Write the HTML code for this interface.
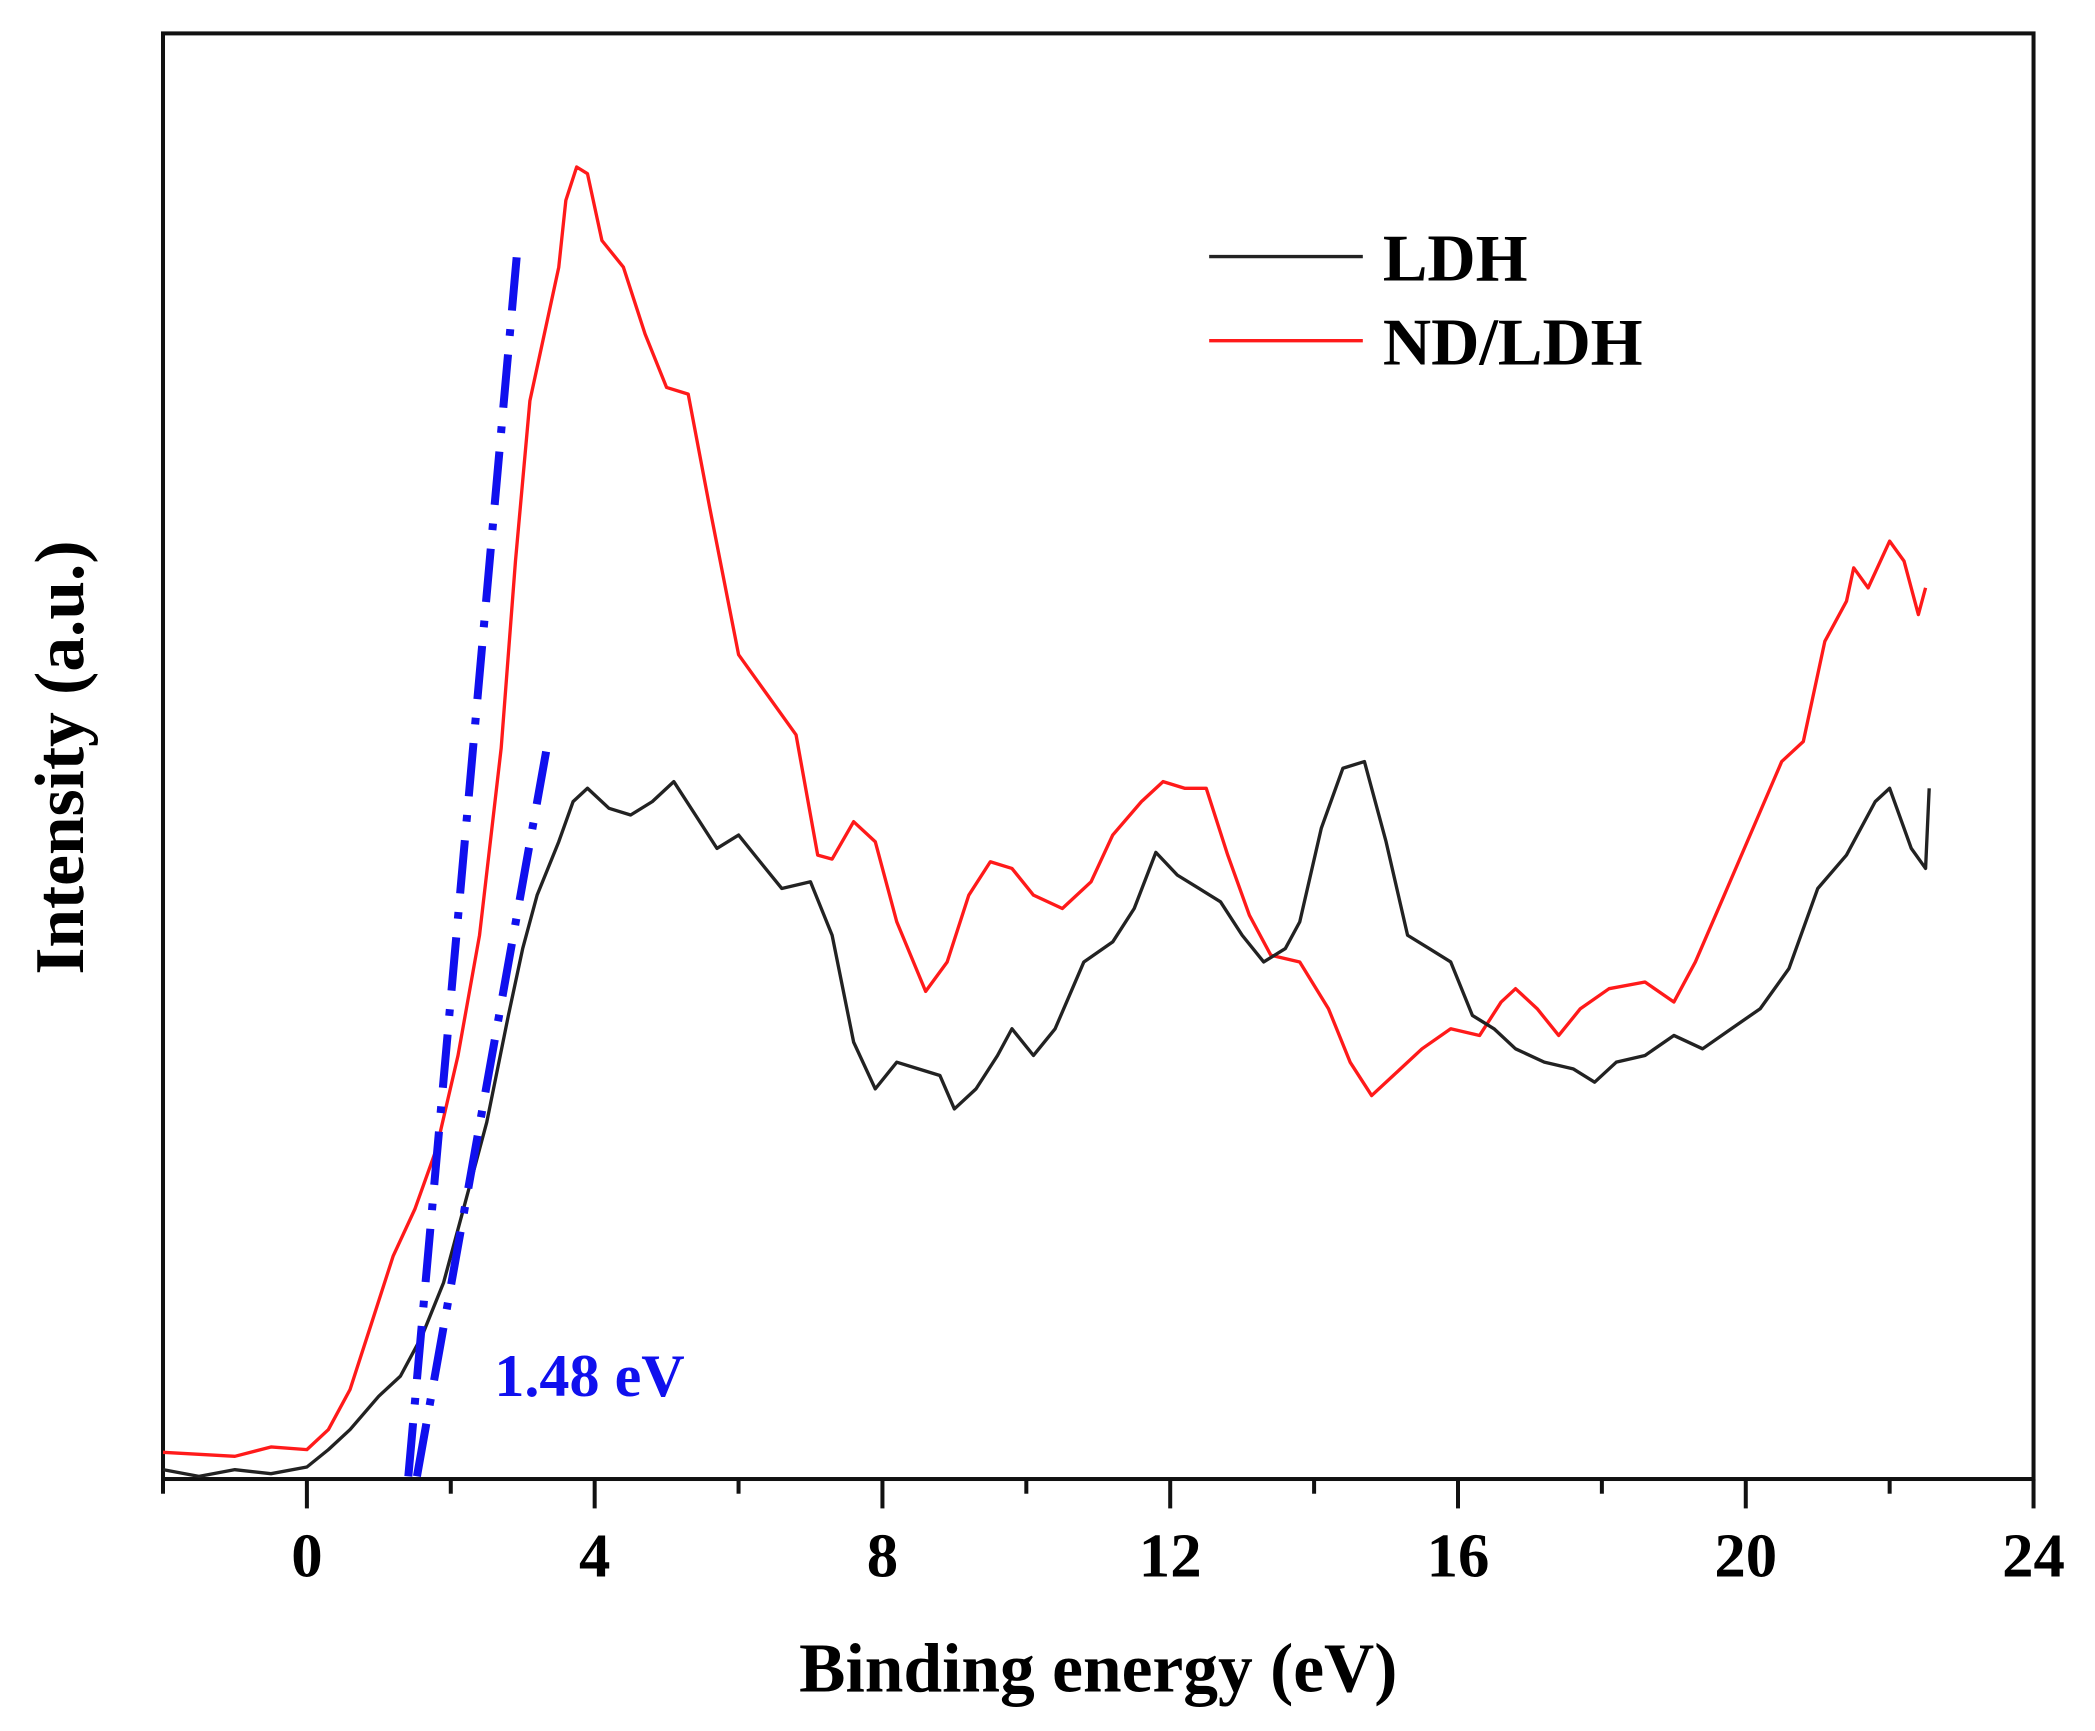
<!DOCTYPE html>
<html><head><meta charset="utf-8"><style>
html,body{margin:0;padding:0;background:#fff;}
svg{display:block;}
text{font-family:"Liberation Serif",serif;font-weight:bold;}
</style></head><body>
<svg id="chart" width="2095" height="1731" viewBox="0 0 1568 1295.6" preserveAspectRatio="none" xmlns="http://www.w3.org/2000/svg">
<g id="plot"></g>
</svg>
<script>
const xTicks=[-2,0,2,4,6,8,10,12,14,16,18,20,22,24];
const xTickLabels=["0","4","8","12","16","20","24"];
const xLabelVals=[0,4,8,12,16,20,24];
const ldhX=[-2,-1.5,-1,-0.5,0,0.3,0.6,1,1.3,1.6,1.9,2.2,2.5,2.8,3.0,3.2,3.5,3.7,3.9,4.2,4.5,4.8,5.1,5.4,5.7,6.0,6.3,6.6,7.0,7.3,7.6,7.9,8.2,8.5,8.8,9.0,9.3,9.6,9.8,10.1,10.4,10.8,11.2,11.5,11.8,12.1,12.4,12.7,13.0,13.3,13.6,13.8,14.1,14.4,14.7,15.0,15.3,15.6,15.9,16.2,16.5,16.8,17.2,17.6,17.9,18.2,18.6,19.0,19.4,19.8,20.2,20.6,21.0,21.4,21.8,22.0,22.3,22.5,22.55];
const ldhY=[7,2,7,4,9,22,37,62,77,107,147,207,267,347,397,437,477,507,517,502,497,507,522,497,472,482,462,442,447,407,327,292,312,307,302,277,292,317,337,317,337,387,402,427,469,452,442,432,407,387,397,417,487,532,537,477,407,397,387,347,337,322,312,307,297,312,317,332,322,337,352,382,442,467,507,517,472,457,517];
const ndX=[-2,-1,-0.5,0,0.3,0.6,0.9,1.2,1.5,1.8,2.1,2.4,2.7,2.9,3.1,3.3,3.5,3.6,3.75,3.9,4.1,4.4,4.7,5.0,5.3,5.6,6.0,6.4,6.8,7.1,7.3,7.6,7.9,8.2,8.6,8.9,9.2,9.5,9.8,10.1,10.5,10.9,11.2,11.6,11.9,12.2,12.5,12.8,13.1,13.4,13.8,14.2,14.5,14.8,15.1,15.5,15.9,16.3,16.6,16.8,17.1,17.4,17.7,18.1,18.6,19.0,19.3,19.7,20.1,20.5,20.8,21.1,21.4,21.5,21.7,22.0,22.2,22.4,22.5];
const ndY=[20,17,24,22,37,67,117,167,202,247,317,407,547,687,807,857,907,957,982,977,927,907,857,817,812,727,617,587,557,467,464,492,477,417,365,387,437,462,457,437,427,447,482,507,522,517,517,467,422,392,387,352,312,287,302,322,337,332,357,367,352,332,352,367,372,357,387,437,487,537,552,627,657,682,667,702,687,647,667];
const tangentLDH=[[1.53,2],[3.35,552]];
const tangentND=[[1.41,2],[2.92,917]];
const X0=122,X1=1522,Y0=1107,Y1=25,xmin=-2,xmax=24,ymax=1082;
const sx=v=>X0+(v-xmin)/(xmax-xmin)*(X1-X0);
const sy=v=>Y0-v/ymax*(Y0-Y1);
const NS="http://www.w3.org/2000/svg";
const g=document.getElementById('plot');
function mk(tag,attrs,parent){const e=document.createElementNS(NS,tag);for(const k in attrs)e.setAttribute(k,attrs[k]);(parent||g).appendChild(e);return e;}
let fr=mk('rect',{x:X0,y:Y1,width:X1-X0,height:Y0-Y1,fill:'none',stroke:'#111','stroke-width':3});


xTicks.forEach(t=>{const major=(t%4===0);
 const l=mk('line',{x1:sx(t),x2:sx(t),y1:Y0,y2:Y0+(major?22:11),stroke:'#111','stroke-width':3});
 
 });
xLabelVals.forEach((v,i)=>{const t=mk('text',{x:sx(v),y:1180,'text-anchor':'middle','font-size':47,fill:'#000'});t.textContent=xTickLabels[i];
 
 });
function path(xs,ys){return xs.map((x,i)=>(i?'L':'M')+sx(x).toFixed(1)+','+sy(ys[i]).toFixed(1)).join('');}
const pn=mk('path',{d:path(ndX,ndY),fill:'none',stroke:'#ff1a1a','stroke-width':2.5,'stroke-linejoin':'round'});


const pl=mk('path',{d:path(ldhX,ldhY),fill:'none',stroke:'#222','stroke-width':2.5,'stroke-linejoin':'round'});


[tangentND,tangentLDH].forEach((tg,i)=>{const l=mk('line',{x1:sx(tg[0][0]),y1:sy(tg[0][1]),x2:sx(tg[1][0]),y2:sy(tg[1][1]),stroke:'#1010ee','stroke-width':6,'stroke-dasharray':'40 14 5 14'});
 
 });
</script>
<svg style="position:absolute;left:0;top:0" width="2095" height="1731" viewBox="0 0 1568 1295.6" preserveAspectRatio="none" xmlns="http://www.w3.org/2000/svg">
<text x="370" y="1045" font-size="45" fill="#1010ee">1.48 eV</text>
<line x1="905" y1="192" x2="1020" y2="192" stroke="#222" stroke-width="2.5"/>
<text x="1035" y="210" font-size="50" fill="#000">LDH</text>
<line x1="905" y1="255" x2="1020" y2="255" stroke="#ff1a1a" stroke-width="2.5"/>
<text x="1035" y="273" font-size="50" fill="#000">ND/LDH</text>
<text x="822" y="1266" text-anchor="middle" font-size="52" fill="#000">Binding energy (eV)</text>
<text transform="translate(62,567) rotate(-90)" text-anchor="middle" font-size="52" fill="#000">Intensity (a.u.)</text>
</svg>
</body></html>
